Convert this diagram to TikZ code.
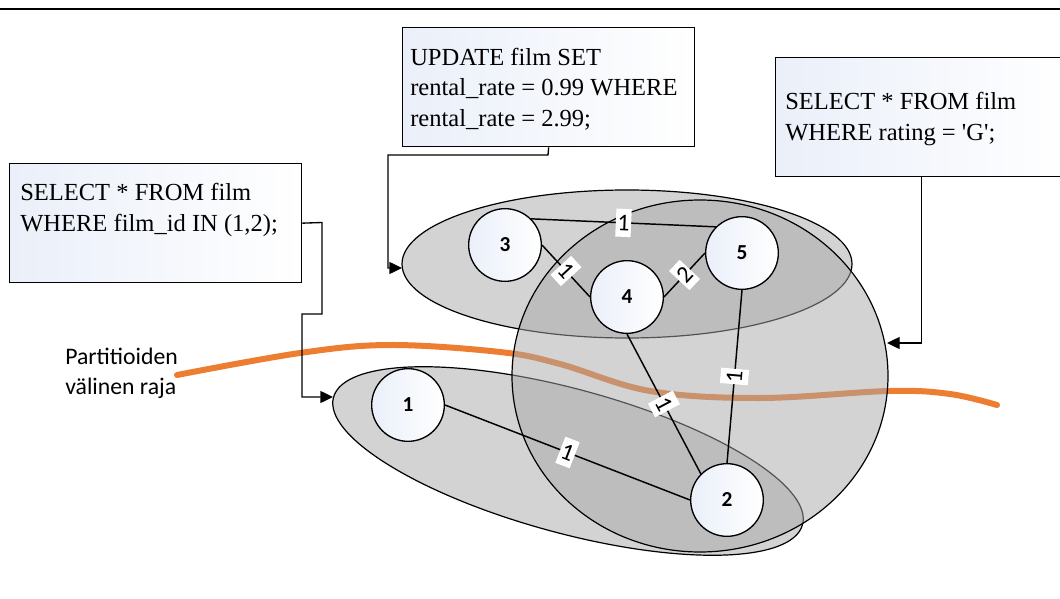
\documentclass[tikz,border=0pt]{standalone}
\usepackage{fontspec}
\setmainfont{Liberation Serif}
\newfontfamily\carl{Carlito}
\usetikzlibrary{arrows.meta}
\definecolor{ellfill}{RGB}{167,167,167}
\definecolor{boxblue}{RGB}{234,239,249}
\definecolor{partorange}{RGB}{237,125,49}
\begin{document}
\begin{tikzpicture}[x=0.75pt,y=-0.75pt,
  ell/.style={fill=ellfill, fill opacity=0.5, draw=black, line width=0.9pt},
  qbox/.style={draw, line width=1pt, left color=boxblue, right color=white,
    minimum width=219pt, minimum height=89.25pt, inner sep=0pt, anchor=north west},
  qtext/.style={align=left, inner sep=0pt, anchor=west, font=\fontsize{18.4}{22.8}\selectfont},
  nodec/.style={circle, draw, line width=1pt, minimum size=54.5pt, inner sep=0pt,
    left color=boxblue, right color=white,
    font=\carl\bfseries\fontsize{16}{16}\selectfont},
  edge/.style={draw, line width=1.1pt},
  elab/.style={fill=white, inner xsep=1.2pt, inner ysep=0pt, minimum height=21pt, sloped, midway,
    font=\carl\fontsize{18}{18}\selectfont},
  conn/.style={draw, line width=1pt, -{Triangle[length=9.5pt,width=9pt]}},
  orangeline/.style={draw=partorange, line width=4.5pt, line cap=round}
]
\useasboundingbox (0,0) rectangle (1060,599);
% top rule
\draw[line width=1.5pt] (0,9) -- (1060,9);

% partition boundary
\draw[orangeline] plot[smooth, tension=0.6] coordinates {(177,375) (300,353) (390,345) (500,352) (560,364) (650,391) (760,398) (889,391) (950,394) (997,405)};
\node[font=\carl\fontsize{17.8}{22.5}\selectfont, align=left, anchor=west, inner sep=0pt] (plabel) at (65,373) {Partitioiden\\välinen raja};

% partitions
\path[ell] (627,264) ellipse [x radius=225, y radius=74];
\path[ell, rotate around={-15.2:(568,461)}] (568,461) ellipse [x radius=243, y radius=72];
\path[ell] (700,376) ellipse [x radius=188, y radius=176];

\coordinate (tipBottom) at (333,397);
\coordinate (tipTop) at (402,268);
\coordinate (tipCircle) at (887,343);

% query boxes
\node[qbox] (boxA) at (9,163) {};
\node[qtext] (tA) at (20,210) {SELECT * FROM film\\WHERE film\_id IN (1,2);};
\node[qbox] (boxB) at (402,27) {};
\node[qtext] (tB) at (410,89) {UPDATE film SET\\rental\_rate = 0.99 WHERE\\rental\_rate = 2.99;};
\node[qbox] (boxC) at (775,57) {};
\node[qtext] (tC) at (785,119) {SELECT * FROM film\\WHERE rating = \textquotesingle G\textquotesingle;};

% connectors
\draw[conn] (boxA.east) -- (322,222.5) -- (322,314) -- (302,314) |- (tipBottom);
\draw[conn] (boxB.south) -- (548,155) -- (388,155) |- (tipTop);
\draw[conn] (boxC.south) |- (tipCircle);

% graph nodes
\node[nodec] (n1) at (408,405) {1};
\node[nodec] (n2) at (727,500) {2};
\node[nodec] (n3) at (505,245) {3};
\node[nodec] (n4) at (627,297) {4};
\node[nodec] (n5) at (742,253) {5};

% graph edges
\draw[edge] (n3.45) -- node[elab]{1} (n5.135);
\draw[edge] (n3.east) -- node[elab]{1} (n4.west);
\draw[edge] (n4.east) -- node[elab]{2} (n5.west);
\draw[edge] (n4.south) -- node[elab]{1} (n2.135);
\draw[edge] (n5.south) -- node[elab]{1} (n2.north);
\draw[edge] (n1.east) -- node[elab]{1} (n2.west);
\end{tikzpicture}
\end{document}
